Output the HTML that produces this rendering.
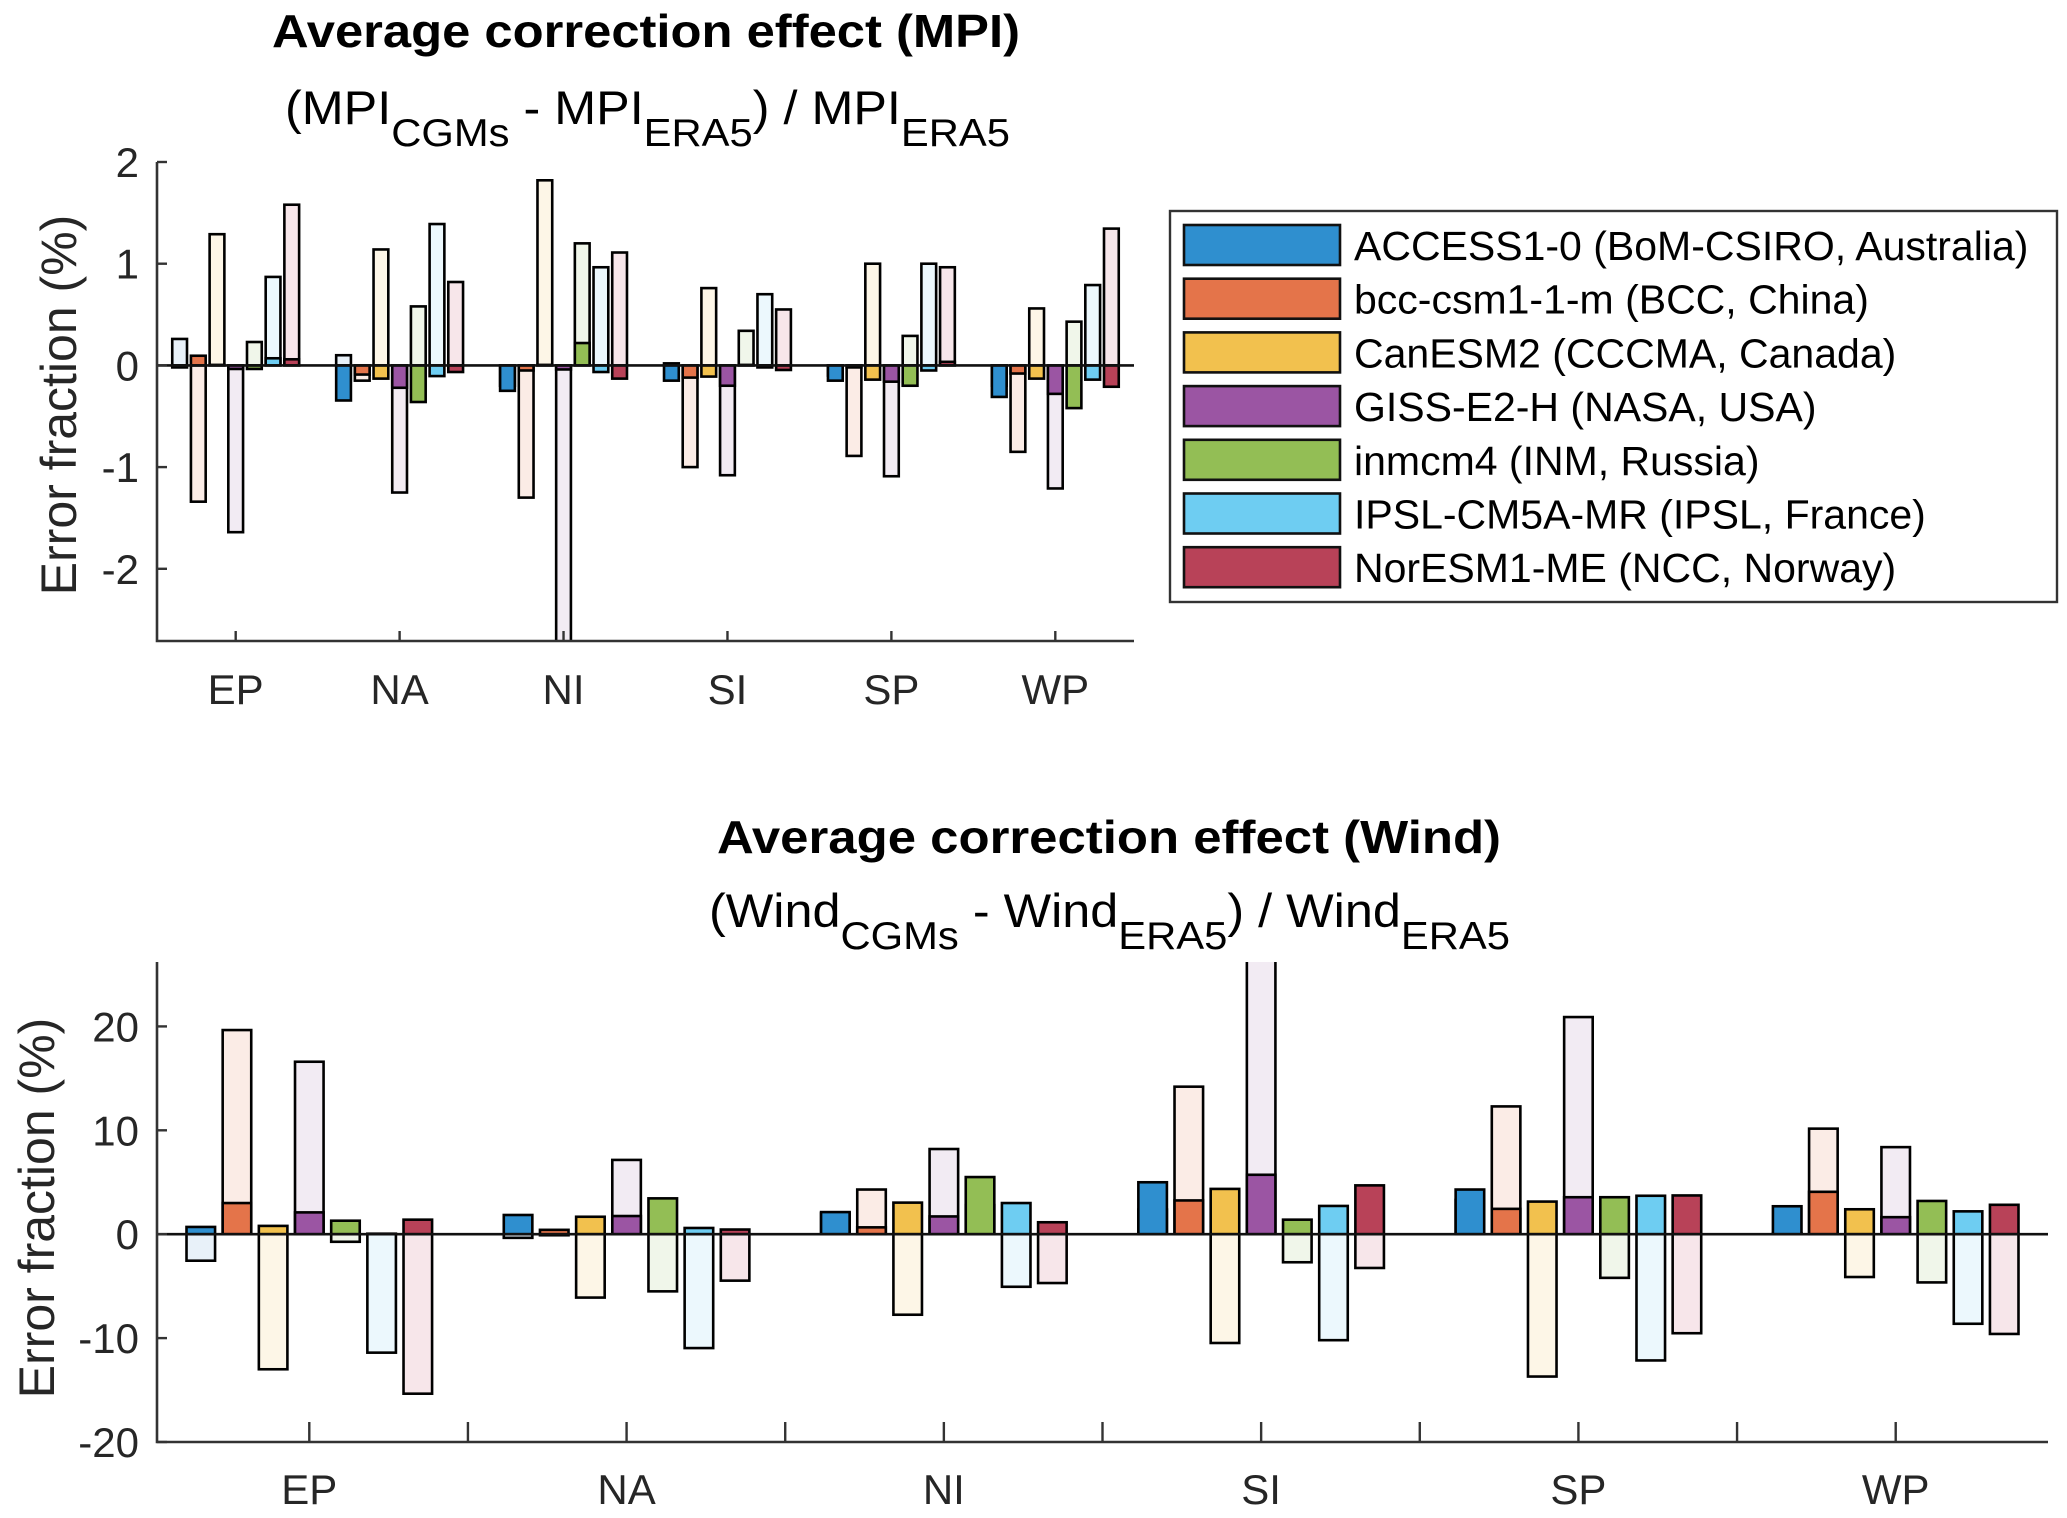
<!DOCTYPE html>
<html><head><meta charset="utf-8"><style>
html,body{margin:0;padding:0;background:#fff}
svg{display:block}
text{font-family:"Liberation Sans",Arial,sans-serif}
</style></head><body>
<svg id="chart" xmlns="http://www.w3.org/2000/svg" width="2067" height="1518" viewBox="0 0 2067 1518">
<rect width="2067" height="1518" fill="#fff"/>
<g id="top"></g>
<g id="bot"></g>
<text x="272" y="47" font-size="46" font-weight="bold" textLength="748" lengthAdjust="spacingAndGlyphs" fill="#000">Average correction effect (MPI)</text>
<text x="285" y="124" font-size="47" textLength="725" lengthAdjust="spacingAndGlyphs" fill="#000">(MPI<tspan dy="22" font-size="39">CGMs</tspan><tspan dy="-22"> - MPI</tspan><tspan dy="22" font-size="39">ERA5</tspan><tspan dy="-22">) / MPI</tspan><tspan dy="22" font-size="39">ERA5</tspan></text>
<text x="717" y="853" font-size="46" font-weight="bold" textLength="784" lengthAdjust="spacingAndGlyphs" fill="#000">Average correction effect (Wind)</text>
<text x="709" y="927" font-size="47" textLength="801" lengthAdjust="spacingAndGlyphs" fill="#000">(Wind<tspan dy="22" font-size="39">CGMs</tspan><tspan dy="-22"> - Wind</tspan><tspan dy="22" font-size="39">ERA5</tspan><tspan dy="-22">) / Wind</tspan><tspan dy="22" font-size="39">ERA5</tspan></text>
<g id="legend"></g>
</svg>
<script>
const regions = ['EP','NA','NI','SI','SP','WP'];
const models = ['ACCESS1-0 (BoM-CSIRO, Australia)','bcc-csm1-1-m (BCC, China)','CanESM2 (CCCMA, Canada)','GISS-E2-H (NASA, USA)','inmcm4 (INM, Russia)','IPSL-CM5A-MR  (IPSL, France)','NorESM1-ME (NCC, Norway)'];
const colors = ['#2f8fcf','#e4744a','#f2c14e','#9b55a3','#93be55','#6ecdf2','#b84258'];
const paleColors = ['#e8f1f9','#fbece6','#fdf6e7','#f2ebf3','#f0f6ea','#ecf8fd','#f7e6ea'];
// MPI (%) per region, 7 models each
const mpiLight = [
 [0.26,-1.34,1.29,-1.64,0.23,0.87,1.58],
 [0.10,-0.15,1.14,-1.25,0.58,1.39,0.82],
 [-0.2,-1.30,1.82,-2.8,1.20,0.965,1.11],
 [0.02,-1.0,0.76,-1.08,0.34,0.70,0.55],
 [-0.1,-0.89,1.0,-1.09,0.29,1.0,0.965],
 [-0.2,-0.85,0.56,-1.21,0.43,0.79,1.345]];
const mpiSolid = [
 [-0.02,0.095,0.005,-0.035,-0.035,0.07,0.06],
 [-0.345,-0.09,-0.13,-0.22,-0.36,-0.105,-0.065],
 [-0.25,-0.05,0.005,-0.04,0.22,-0.065,-0.13],
 [-0.15,-0.12,-0.11,-0.20,0.005,-0.02,-0.045],
 [-0.15,-0.02,-0.14,-0.16,-0.2,-0.05,0.035],
 [-0.31,-0.08,-0.13,-0.28,-0.42,-0.14,-0.21]];
// Wind (%)
const windLight = [
 [-2.55,19.65,-13.0,16.6,-0.73,-11.4,-15.35],
 [-0.35,-0.1,-6.1,7.15,-5.5,-10.96,-4.47],
 [2.0,4.3,-7.75,8.2,2.8,-5.06,-4.7],
 [2.37,14.2,-10.47,26.5,-2.7,-10.2,-3.25],
 [3.3,12.3,-13.7,20.9,-4.2,-12.15,-9.53],
 [0.1,10.16,-4.12,8.38,-4.64,-8.62,-9.6]];
const windSolid = [
 [0.7,3.0,0.8,2.1,1.3,0.05,1.4],
 [1.85,0.42,1.68,1.75,3.45,0.6,0.45],
 [2.13,0.66,3.04,1.71,5.5,3.0,1.15],
 [5.0,3.25,4.36,5.72,1.4,2.72,4.7],
 [4.3,2.44,3.14,3.56,3.56,3.7,3.73],
 [2.69,4.08,2.4,1.64,3.2,2.2,2.83]];
const mpiTicks = [2,1,0,-1,-2];
const windTicks = [20,10,0,-10,-20];

const NS='http://www.w3.org/2000/svg';
function mk(parent, tag, attrs){const e=document.createElementNS(NS,tag);for(const k in attrs)e.setAttribute(k,attrs[k]);parent.appendChild(e);return e;}

function panel(g, cfg){
  const xs = v => cfg.left + (v - 0.52) / (6.48 - 0.52) * (cfg.right - cfg.left);
  const ys = v => cfg.y0 - (v - cfg.ymin) / (cfg.ymax - cfg.ymin) * (cfg.y0 - cfg.ytop);
  const cid = cfg.id + '-clip';
  const defs = mk(g,'defs',{});
  const cp = mk(defs,'clipPath',{id:cid});
  mk(cp,'rect',{x:cfg.left,y:cfg.ytop,width:cfg.right-cfg.left,height:cfg.y0-cfg.ytop});
  const bars = mk(g,'g',{'clip-path':'url(#'+cid+')'});
  
  
  const step = 0.114, w = 0.09;
  regions.forEach((r, ri) => {
    for (let m = 0; m < 7; m++) {
      const c = ri + 1 + (m - 3) * step;
      const x1 = xs(c - w/2), x2 = xs(c + w/2);
      [[cfg.light[ri][m], paleColors[m], 'light'], [cfg.solid[ri][m], colors[m], 'solid']].forEach(([v, col, kind]) => {
        const ya = ys(0), yb = ys(v);
        const rc = mk(bars,'rect',{x:x1,y:Math.min(ya,yb),width:x2-x1,height:Math.max(Math.abs(yb-ya),0.5),fill:col,stroke:'#000','stroke-width':2.6});
        
        
      });
    }
  });
  const zl = mk(g,'line',{x1:cfg.left,x2:cfg.right,y1:ys(0),y2:ys(0),stroke:'#111','stroke-width':2.6});
  
  
  const ax = mk(g,'path',{d:`M${cfg.left},${cfg.ytop} V${cfg.y0} H${cfg.right}`,fill:'none',stroke:'#333','stroke-width':2.6});
  
  
  cfg.ticks.forEach(t => {
    const y = ys(t);
    mk(g,'line',{x1:cfg.left,x2:cfg.left+10,y1:y,y2:y,stroke:'#333','stroke-width':2.4});
    const tx = mk(g,'text',{x:cfg.left-18,y:y+15,'font-size':42,'text-anchor':'end',fill:'#262626'});
    tx.textContent = t;
    
    
  });
  const xt = cfg.minor ? [1,1.5,2,2.5,3,3.5,4,4.5,5,5.5,6] : [1,2,3,4,5,6];
  xt.forEach(v => mk(g,'line',{x1:xs(v),x2:xs(v),y1:cfg.y0,y2:cfg.y0-cfg.tickLen,stroke:'#333','stroke-width':2.4}));
  regions.forEach((r, ri) => {
    const tx = mk(g,'text',{x:xs(ri+1),y:cfg.xlabY,'font-size':42,'text-anchor':'middle',fill:'#262626'});
    tx.textContent = r;
    
    
  });
  const yl = mk(g,'text',{x:0,y:0,'font-size':50,'text-anchor':'middle',fill:'#262626',transform:`translate(${cfg.ylabX},${cfg.ylabY}) rotate(-90)`});
  yl.textContent = 'Error fraction (%)';
  
  
}

panel(document.getElementById('top'), {id:'mpi', left:157, right:1134, ytop:162, y0:641, ymin:-2.71, ymax:2, ticks:mpiTicks, light:mpiLight, solid:mpiSolid, tickLen:10, minor:false, xlabY:704, ylabX:76, ylabY:405});
panel(document.getElementById('bot'), {id:'wind', left:157, right:2048, ytop:962, y0:1442, ymin:-20, ymax:26.2, ticks:windTicks, light:windLight, solid:windSolid, tickLen:20, minor:true, xlabY:1504, ylabX:54, ylabY:1208});

const lg = document.getElementById('legend');
mk(lg,'rect',{x:1170,y:211,width:887,height:391,fill:'#fff',stroke:'#333','stroke-width':2.4});
models.forEach((n, i) => {
  const y = 225 + i*53.7;
  const sw = mk(lg,'rect',{x:1184,y:y,width:156,height:40,fill:colors[i],stroke:'#111','stroke-width':2.6});
  
  
  const t = mk(lg,'text',{x:1354,y:y+35,'font-size':41,fill:'#000','xml:space':'preserve'});
  t.textContent = n;
  
  
});
</script>
</body></html>
